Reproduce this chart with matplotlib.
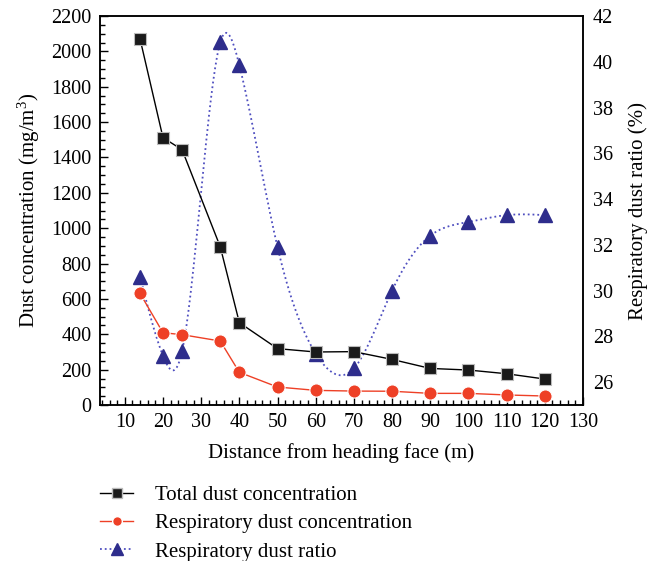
import numpy as np
import matplotlib.pyplot as plt
from matplotlib.ticker import MultipleLocator

## Data
distance = [14, 20, 25, 35, 40, 50, 60, 70, 80, 90, 100, 110, 120]
total_dust = [2070, 1512, 1444, 895, 466, 319, 300, 302, 258, 207, 198, 177, 147]
resp_dust = [631, 409, 398, 362, 185, 102, 83, 79, 78, 66, 66, 57, 51]
resp_ratio = [30.6, 27.15, 27.35, 40.85, 39.85, 31.9, 27.25, 26.6, 30.0, 32.4, 33.0, 33.3, 33.3]


## Natural cubic spline used only to draw the smooth dotted curve
def natural_spline(x, y, n=400):
    x = np.asarray(x, float)
    y = np.asarray(y, float)
    k = len(x)
    h = np.diff(x)
    A = np.zeros((k, k))
    b = np.zeros(k)
    A[0, 0] = A[-1, -1] = 1
    for i in range(1, k - 1):
        A[i, i - 1] = h[i - 1]
        A[i, i] = 2 * (h[i - 1] + h[i])
        A[i, i + 1] = h[i]
        b[i] = 6 * ((y[i + 1] - y[i]) / h[i] - (y[i] - y[i - 1]) / h[i - 1])
    m = np.linalg.solve(A, b)
    xs = np.linspace(x[0], x[-1], n)
    idx = np.clip(np.searchsorted(x, xs) - 1, 0, k - 2)
    x0, x1 = x[idx], x[idx + 1]
    hh = x1 - x0
    t0, t1 = x1 - xs, xs - x0
    ys = (m[idx] * t0**3 + m[idx + 1] * t1**3) / (6 * hh) \
        + (y[idx] / hh - m[idx] * hh / 6) * t0 \
        + (y[idx + 1] / hh - m[idx + 1] * hh / 6) * t1
    return xs, ys


plt.rcParams['font.family'] = ['Liberation Serif', 'DejaVu Serif']
plt.rcParams['font.size'] = 14.5
plt.rcParams['mathtext.fontset'] = 'custom'
plt.rcParams['mathtext.rm'] = 'Liberation Serif'
plt.rcParams['mathtext.it'] = 'Liberation Serif:italic'

fig = plt.figure(figsize=(6.56, 5.61), dpi=100)
ax = fig.add_axes([0.1524, 0.278, 0.7363, 0.6935])
ax2 = ax.twinx()

## Ratio curve (right axis)
xs, ys = natural_spline(distance, resp_ratio)
ax2.plot(xs, ys, ':', color='#4f4fc0', lw=1.3)
ax2.plot(distance, resp_ratio, '^', color='#2e2d8c', ms=10, mec='#2e2d8c', ls='none')

## Concentrations (left axis)
ax.plot(distance, total_dust, '-s', color='black', lw=1, ms=8.5,
        mfc='#1a1a1a', mec='#bbbbbb', mew=0.8)
ax.plot(distance, resp_dust, '-o', color='#ee4026', lw=1, ms=9.5,
        mfc='#ee4026', mec='white', mew=0.8)

ax.set_zorder(ax2.get_zorder() + 1)
ax.patch.set_visible(False)

ax.set_xlim(3.5, 130)
ax.set_ylim(0, 2200)
ax2.set_ylim(25, 42)

ax.xaxis.set_major_locator(MultipleLocator(10))
ax.xaxis.set_minor_locator(MultipleLocator(2))
ax.yaxis.set_major_locator(MultipleLocator(200))
ax.yaxis.set_minor_locator(MultipleLocator(50))
ax.set_xticks(range(10, 131, 10))
ax2.yaxis.set_major_locator(MultipleLocator(2))

ax.tick_params(axis='both', which='both', direction='in', top=False, right=False)
ax.tick_params(which='major', length=6, width=1)
ax.tick_params(which='minor', length=3.5, width=1)
ax.tick_params(axis='x', pad=6)
ax.tick_params(axis='y', pad=6)
ax2.tick_params(axis='y', length=0, pad=7)

for a in (ax, ax2):
    for s in a.spines.values():
        s.set_linewidth(1.1)

ax.set_xlabel('Distance from heading face (m)', fontsize=15, labelpad=8)
ax.set_ylabel('Dust concentration (mg/m$^3$)', fontsize=15, labelpad=7)
ax2.set_ylabel('Respiratory dust ratio (%)', fontsize=15, labelpad=11)

## Legend below the plot
h1 = plt.Line2D([], [], color='black', lw=1, marker='s', ms=7, mfc='#1a1a1a', mec='#bbbbbb')
h2 = plt.Line2D([], [], color='#ee4026', lw=1, marker='o', ms=7, mfc='#ee4026', mec='white')
h3 = plt.Line2D([], [], color='#4f4fc0', lw=1.3, ls=':', marker='^', ms=8,
                mfc='#2e2d8c', mec='#2e2d8c')
fig.legend([h1, h2, h3],
           ['Total dust concentration', 'Respiratory dust concentration', 'Respiratory dust ratio'],
           loc='center left', bbox_to_anchor=(0.124, 0.067), frameon=False, fontsize=15,
           handlelength=1.6, handletextpad=1.05, labelspacing=0.42)

fig.savefig('out.png', dpi=100)
